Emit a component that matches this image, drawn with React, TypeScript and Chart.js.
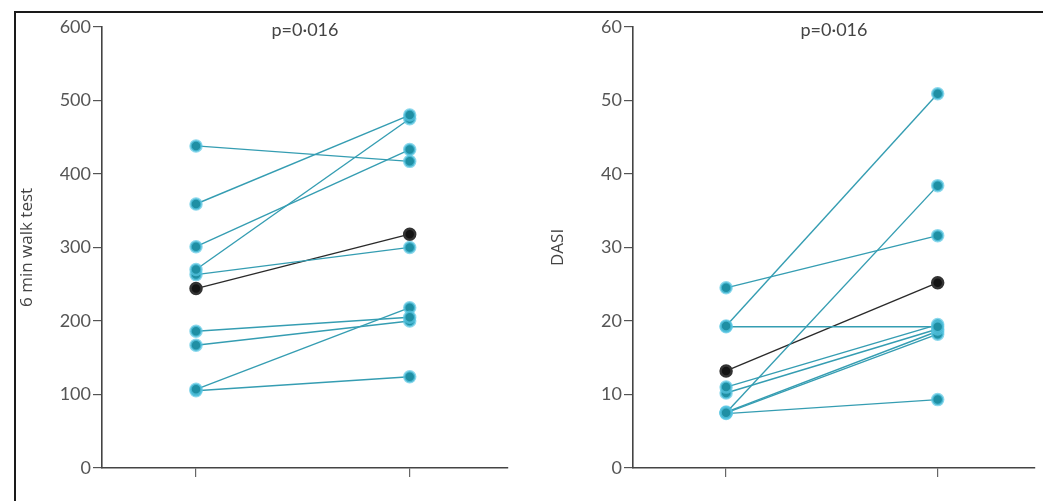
import React, { useEffect, useRef } from "react";
import { Chart, registerables } from "chart.js";

Chart.register(...registerables);

// Paired measurements: before (x = 1) and after (x = 2) for each patient
const timepoints = [1, 2];

const walkBefore = [438, 359, 301, 270, 263, 186, 167, 107, 105];
const walkAfter = [417, 480, 433, 475, 300, 205, 200, 218, 124];
const walkHighlight = [244, 318];
const walkTicks = [0, 100, 200, 300, 400, 500, 600];

const dasiBefore = [24.5, 19.3, 19.2, 11.0, 10.2, 7.5, 7.5, 7.6, 7.4];
const dasiAfter = [31.6, 50.9, 19.2, 19.5, 18.9, 38.4, 18.2, 18.6, 9.3];
const dasiHighlight = [13.2, 25.2];
const dasiTicks = [0, 10, 20, 30, 40, 50, 60];

const pLabels = ["p=0·016", "p=0·016"];
const axisTitles = ["6 min walk test", "DASI"];

const FONT = "Lato, 'Open Sans', sans-serif";
const TITLE_FONT = "'Open Sans', Lato, sans-serif";
const TEAL_LINE = "#359db2";
const TEAL_POINT = "#1f8fa4";
const TEAL_HALO = "rgba(90,200,228,0.7)";
const DARK = "#141414";

type PanelProps = {
  before: number[];
  after: number[];
  highlight: number[];
  ticks: number[];
  yTitle: string;
  pLabel: string;
  left: number;
  width: number;
  yAxisWidth: number;
  padRight: number;
  titlePad: number;
};

const TOP = 14;
const HEIGHT = 487;

function Panel(props: PanelProps) {
  const ref = useRef<HTMLCanvasElement | null>(null);

  useEffect(() => {
    const canvas = ref.current;
    if (!canvas) return;

    const pairDataset = (b: number, a: number, dark: boolean) => ({
      data: [
        { x: timepoints[0], y: b },
        { x: timepoints[1], y: a },
      ],
      borderColor: dark ? "#2a2a2a" : TEAL_LINE,
      borderWidth: 1.4,
      pointRadius: 5.5,
      pointBackgroundColor: dark ? DARK : TEAL_POINT,
      pointBorderColor: dark ? "#333" : TEAL_HALO,
      pointBorderWidth: 2.5,
      fill: false,
      tension: 0,
    });

    const datasets = props.before.map((b, i) => pairDataset(b, props.after[i], false));
    datasets.push(pairDataset(props.highlight[0], props.highlight[1], true));

    const pLabelPlugin = {
      id: "pLabel",
      afterDraw(chart: any) {
        const { ctx, chartArea } = chart;
        ctx.save();
        ctx.font = `18px ${FONT}`;
        ctx.fillStyle = "#444";
        ctx.textAlign = "center";
        ctx.textBaseline = "middle";
        ctx.fillText(props.pLabel, (chartArea.left + chartArea.right) / 2, chartArea.top + 3);
        ctx.restore();
      },
    };

    const yMax = props.ticks[props.ticks.length - 1];
    const step = props.ticks[1] - props.ticks[0];

    const chart = new Chart(canvas, {
      type: "line",
      data: { datasets },
      options: {
        animation: false,
        responsive: false,
        events: [],
        layout: { padding: { top: 11, right: props.padRight, left: 0, bottom: 0 } },
        plugins: { legend: { display: false }, tooltip: { enabled: false } },
        scales: {
          x: {
            type: "linear",
            min: 0.56,
            max: 2.46,
            afterBuildTicks: (s: any) => {
              s.ticks = timepoints.map((v) => ({ value: v }));
            },
            afterFit: (s: any) => {
              s.height = 33;
            },
            ticks: { display: false },
            grid: {
              drawOnChartArea: false,
              drawTicks: true,
              tickLength: 9,
              color: "#666",
              lineWidth: 1.2,
            },
            border: { display: true, color: "#444", width: 1.6 },
          },
          y: {
            min: 0,
            max: yMax,
            ticks: {
              stepSize: step,
              color: "#555",
              padding: 2,
              font: { family: FONT, size: 18 },
            },
            afterFit: (s: any) => {
              s.width = props.yAxisWidth;
            },
            grid: {
              drawOnChartArea: false,
              drawTicks: true,
              tickLength: 9,
              color: "#555",
              lineWidth: 1.2,
            },
            border: { display: true, color: "#444", width: 1.6 },
            title: {
              display: true,
              text: props.yTitle,
              color: "#444",
              font: { family: TITLE_FONT, size: 17 },
              padding: { top: props.titlePad, bottom: 0 },
            },
          },
        },
      },
      plugins: [pLabelPlugin],
    } as any);

    return () => chart.destroy();
  }, []);

  return (
    <canvas
      ref={ref}
      width={props.width}
      height={HEIGHT}
      style={{
        position: "absolute",
        left: props.left,
        top: TOP,
        width: props.width,
        height: HEIGHT,
      }}
    />
  );
}

export default function App() {
  return (
    <div
      style={{
        position: "absolute",
        left: 0,
        top: 0,
        width: 1043,
        height: 501,
        overflow: "hidden",
        background: "#fff",
      }}
    >
      <div
        style={{
          position: "absolute",
          left: 14,
          top: 11,
          width: 1100,
          height: 600,
          border: "2px solid #1a1a1a",
          boxSizing: "border-box",
        }}
      />
      <Panel
        before={walkBefore}
        after={walkAfter}
        highlight={walkHighlight}
        ticks={walkTicks}
        yTitle={axisTitles[0]}
        pLabel={pLabels[0]}
        left={16}
        width={504}
        yAxisWidth={86}
        padRight={12}
        titlePad={1}
      />
      <Panel
        before={dasiBefore}
        after={dasiAfter}
        highlight={dasiHighlight}
        ticks={dasiTicks}
        yTitle={axisTitles[1]}
        pLabel={pLabels[1]}
        left={545}
        width={498}
        yAxisWidth={88}
        padRight={6}
        titlePad={3}
      />
    </div>
  );
}
